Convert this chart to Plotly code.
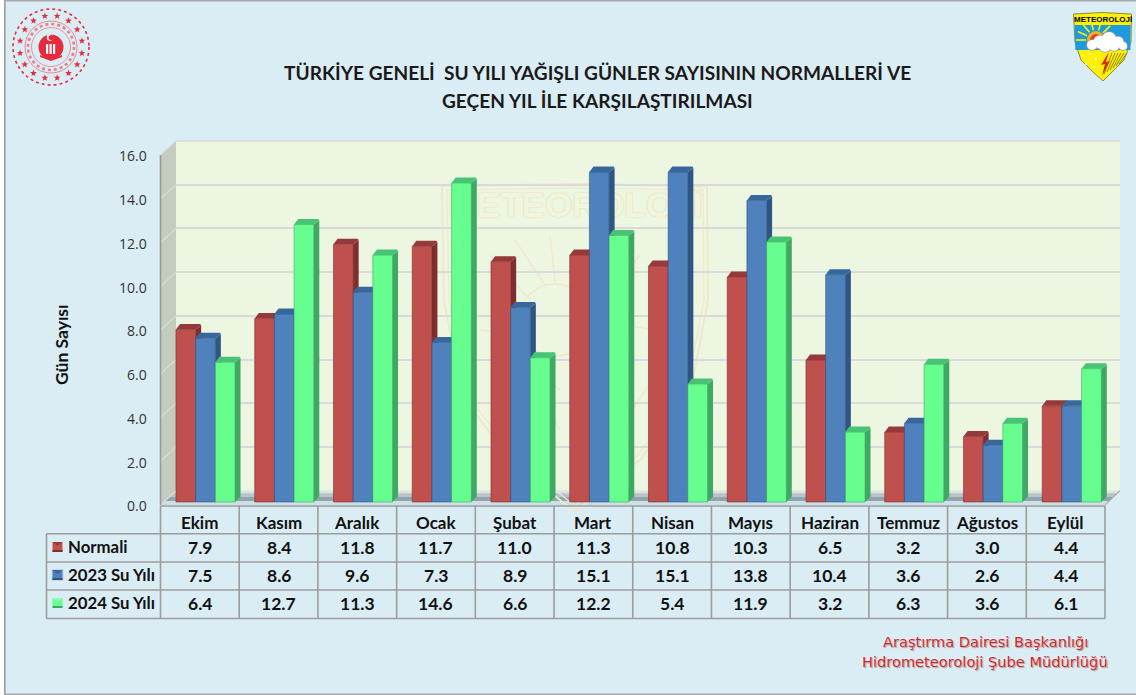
import math
import plotly.graph_objects as go

W, H = 1136, 695

months = ["Ekim", "Kasım", "Aralık", "Ocak", "Şubat", "Mart", "Nisan", "Mayıs", "Haziran", "Temmuz", "Ağustos", "Eylül"]
normali = [7.9, 8.4, 11.8, 11.7, 11.0, 11.3, 10.8, 10.3, 6.5, 3.2, 3.0, 4.4]
su_2023 = [7.5, 8.6, 9.6, 7.3, 8.9, 15.1, 15.1, 13.8, 10.4, 3.6, 2.6, 4.4]
su_2024 = [6.4, 12.7, 11.3, 14.6, 6.6, 12.2, 5.4, 11.9, 3.2, 6.3, 3.6, 6.1]
series_names = ["Normali", "2023 Su Yılı", "2024 Su Yılı"]
title_lines = ["TÜRKİYE GENELİ  SU YILI YAĞIŞLI GÜNLER SAYISININ NORMALLERİ VE",
               "GEÇEN YIL İLE KARŞILAŞTIRILMASI"]
y_title = "Gün Sayısı"
footer = ["Araştırma Dairesi Başkanlığı", "Hidrometeoroloji Şube Müdürlüğü"]

front = ["#C0504D", "#4F81BD", "#66FF8F"]
side = ["#7E2F2D", "#2F5583", "#3FA863"]
cap = ["#96393A", "#38679E", "#47C473"]
BG = "#DBEDF4"
GRID = "#9C9C9C"
FONT = "Lato"

fig = go.Figure()

# pixel helpers ---------------------------------------------------------
def px(x): return x / W
def py(y): return 1 - y / H
def path(points, close=True):
    s = "M " + " L ".join(f"{px(x):.5f},{py(y):.5f}" for x, y in points)
    return s + (" Z" if close else "")
shapes = []
def poly(points, fill, line=None, lw=0, close=True, layer="below"):
    shapes.append(dict(type="path", xref="paper", yref="paper", path=path(points, close), layer=layer,
                       fillcolor=fill if close else "rgba(0,0,0,0)",
                       line=dict(color=line or "rgba(0,0,0,0)", width=lw)))
def rect(x0, y0, x1, y1, fill, layer="below"):
    poly([(x0, y0), (x1, y0), (x1, y1), (x0, y1)], fill, layer=layer)
def seg(x0, y0, x1, y1, color, lw=1, layer="above"):
    poly([(x0, y0), (x1, y1)], None, line=color, lw=lw, close=False, layer=layer)
def circle(cx, cy, r, fill="rgba(0,0,0,0)", line=None, lw=0, dash=None, layer="above"):
    ln = dict(color=line or "rgba(0,0,0,0)", width=lw)
    if dash: ln["dash"] = dash
    shapes.append(dict(type="circle", xref="paper", yref="paper", x0=px(cx - r), x1=px(cx + r),
                       y0=py(cy + r), y1=py(cy - r), fillcolor=fill, line=ln, layer=layer))
annotations = []
def label(x, y, text, size, color="#111111", bold=True, anchor="center", family=FONT, angle=0, shadow=None):
    f = dict(size=size, color=color, family=family, weight=700 if bold else 400)
    if shadow: f["shadow"] = shadow
    annotations.append(dict(xref="paper", yref="paper", x=px(x), y=py(y), text=text, showarrow=False,
                            xanchor=anchor, yanchor="middle", font=f, textangle=angle))

# page frame ------------------------------------------------------------
rect(0, 0, 4, H, "#FFFFFF")
rect(4, 0, 5.6, H, "#9A9A9A")
rect(4, 0, W, 1.4, "#A8A8A8")
rect(4, 693.6, W, H, "#A8A8A8")

# chart walls -----------------------------------------------------------
FX0, FX1, FY0, FY16 = 160.5, 1105, 505, 155
BX0, BX1, BY0, BY16 = 176, 1120, 490.6, 141
poly([(BX0, BY16), (BX1, BY16), (BX1, BY0), (BX0, BY0)], "#EDF6E1")
seg(BX0, BY16, BX1, BY16, "#DADADA", 1.5, "below")
poly([(FX0, FY16), (BX0, BY16), (BX0, BY0), (FX0, FY0)], "#C3CCBE")
floor_bands = [(0.0, 0.18, "#DDE4DF"), (0.18, 0.45, "#B7C4C8"), (0.45, 0.72, "#93A3AC"), (0.72, 1.0, "#CCE0E8")]
for a, b, c in floor_bands:
    xa0 = BX0 + (FX0 - BX0) * a; xa1 = BX1 + (FX1 - BX1) * a; ya = BY0 + (FY0 - BY0) * a
    xb0 = BX0 + (FX0 - BX0) * b; xb1 = BX1 + (FX1 - BX1) * b; yb = BY0 + (FY0 - BY0) * b
    poly([(xa0, ya), (xa1, ya), (xb1, yb), (xb0, yb)], c)
for v in range(0, 18, 2):
    f = v / 16
    yb = BY0 + (BY16 - BY0) * f; yf = FY0 + (FY16 - FY0) * f
    seg(FX0, yf, BX0, yb, "#D8DDD2", 1.2, "below")
seg(BX1, BY0, FX1, FY0, "#A6ADB0", 1.2, "below")
seg(FX0, FY16, FX0, FY0, "#9A9A9A", 1.6, "below")

# watermark -------------------------------------------------------------
WM = "#EFE9CC"
shield = [(442, 186), (575, 184), (707, 186), (708, 300), (690, 395), (640, 460), (575, 512), (510, 460), (462, 395), (444, 300)]
poly(shield, "rgba(0,0,0,0)", line=WM, lw=2)
poly([(447, 190), (575, 188), (703, 190), (704, 300), (686, 393), (637, 456), (575, 506), (513, 456), (466, 393), (449, 300)],
     "rgba(0,0,0,0)", line=WM, lw=1.2)
for x0, y0, x1, y1 in [(490, 255, 530, 300), (515, 240, 545, 285), (550, 235, 555, 282), (600, 240, 585, 285),
                       (640, 255, 610, 295), (660, 330, 620, 325), (480, 330, 520, 335), (635, 370, 590, 440),
                       (655, 375, 610, 445), (500, 345, 560, 390), (515, 360, 560, 430)]:
    seg(x0, y0, x1, y1, WM, 1.4, "below")
circle(555, 320, 36, line=WM, lw=1.4, layer="below")

# logos: seal -----------------------------------------------------------
SEAL = "#E62B3C"
SC = (51, 47)
circle(*SC, 38, line=SEAL, lw=1.6, dash="dot")
for k in range(16):
    a = 2 * math.pi * k / 16 + math.pi / 16
    sx0 = SC[0] + 31.5 * math.cos(a)
    sy0 = SC[1] + 31.5 * math.sin(a)
    pts = []
    for j in range(10):
        rr = 3.6 if j % 2 == 0 else 1.5
        t = -math.pi / 2 + j * math.pi / 5
        pts.append((sx0 + rr * math.cos(t), sy0 + rr * math.sin(t)))
    poly(pts, SEAL, layer="above")
circle(*SC, 26, line="#EE7C86", lw=0.9)
circle(*SC, 23, line="#EE7C86", lw=2.6, dash="dot")
circle(*SC, 19.5, line="#EE7C86", lw=0.8)
circle(*SC, 12.5, fill=SEAL)
circle(50, 37.5, 3.2, fill="#FFFFFF")
circle(51.2, 37.5, 2.6, fill=SEAL)
for x in (46, 49.5, 53):
    rect(x, 44, x + 2.2, 54, "#FFFFFF", "above")
poly([(40, 55), (51, 59), (62, 55), (62, 57), (51, 61), (40, 57)], SEAL, layer="above")
# logos: emblem ---------------------------------------------------------
E = [(1073.5, 14), (1102, 12.5), (1131.5, 14), (1131, 42), (1124, 60), (1112, 72), (1103, 81), (1093, 72), (1081, 60), (1075, 42)]
poly(E, "#FFF200", line="#8A8A50", lw=1, layer="above")
poly([(1074.6, 25), (1130.6, 25), (1130.4, 50), (1075.4, 50)], "#1E9BDC", layer="above")
circle(1096, 40, 9, fill="#F4B01E", layer="above")
circle(1096, 40, 6, fill="#E2401F", layer="above")
for a in (180, 205, 230, 255, 285, 315):
    r = math.radians(a)
    seg(1096 + 10 * math.cos(r), 40 + 10 * math.sin(r), 1096 + 20 * math.cos(r), 40 + 20 * math.sin(r), "#FFF200", 1.6)
for cx, cy, r in [(1092, 45, 5), (1100, 42, 6.5), (1109, 39, 7), (1118, 42, 5.5), (1123, 46, 4), (1105, 46, 6), (1114, 46, 5)]:
    circle(cx, cy, r + 0.8, fill="#9C9C9C", layer="above")
for cx, cy, r in [(1092, 45, 5), (1100, 42, 6.5), (1109, 39, 7), (1118, 42, 5.5), (1123, 46, 4), (1105, 46, 6), (1114, 46, 5)]:
    circle(cx, cy, r, fill="#FFFFFF", layer="above")
poly([(1109, 52), (1101, 65), (1105, 64), (1102, 76), (1110, 61), (1106, 62)], "#E1261C", layer="above")
for i in range(6):
    seg(1112 + 3 * i, 53, 1104 + 3 * i, 74 - 2 * i, "#6F6A20", 0.8)
for cx, cy in [(1083, 56), (1090, 54), (1096, 59), (1086, 64), (1094, 67)]:
    circle(cx, cy, 0.9, fill="#FFFFFF", layer="above")
label(1102.5, 19.5, "METEOROLOJİ", 8, color="#000000", family="Liberation Sans")

# table -----------------------------------------------------------------
col_w = (FX1 - FX0) / len(months)
rows_y = [506, 533.7, 562, 590, 618.5]
TX0 = 46.5
for i in range(len(months) + 1):
    x = FX0 + col_w * i
    seg(x, rows_y[0], x, rows_y[-1], GRID, 1.6)
seg(FX0, rows_y[0], FX1, rows_y[0], GRID, 1.6)
for y in rows_y[1:]:
    seg(TX0, y, FX1, y, GRID, 1.6)
seg(TX0, rows_y[1], TX0, rows_y[-1], GRID, 1.6)

for i, m in enumerate(months):
    cx = FX0 + col_w * (i + 0.5)
    label(cx, 522.5, m, 17)
    for r, vals in enumerate((normali, su_2023, su_2024)):
        label(cx, 547.5 + 28 * r, f"{vals[i]:.1f}", 17.5)
for r, name in enumerate(series_names):
    yc = 547 + 28 * r
    label(66, yc - 0.5, name, 16.8, anchor="left")
    if r == 1:
        rect(51.5, yc - 6, 63.5, yc + 6, "#C9D3DA", "above")
    rect(52.5, yc - 5, 62.5, yc + 5, front[r], "above")
    poly([(52.5, yc - 5), (62.5, yc - 5), (57.5, yc - 1)], cap[r] if r != 2 else "#8CFFAE", layer="above")
    rect(52.5, yc + 3, 62.5, yc + 5, side[r], "above")

# texts -----------------------------------------------------------------
label(597.5, 73, title_lines[0], 19.1, color="#1A1A1A")
label(597.5, 100, title_lines[1], 19.1, color="#1A1A1A")
label(61, 345, y_title, 17.5, color="#111111", angle=-90)
FOOT_SHADOW = "0 0 2px #FFFFFF, 1px 1px 1px #888888"
label(985, 641.5, footer[0], 14.6, color="#D5232A", bold=False, family="DejaVu Sans", shadow=FOOT_SHADOW)
label(985, 661.5, footer[1], 14.6, color="#D5232A", bold=False, family="DejaVu Sans", shadow=FOOT_SHADOW)

# traces ----------------------------------------------------------------
# subplot 1: back wall with its grid
fig.add_trace(go.Scatter(x=[0], y=[0], mode="markers", marker=dict(opacity=0), hoverinfo="skip", showlegend=False,
                         xaxis="x", yaxis="y"))
fig.add_trace(go.Scatter(x=[4.65], y=[12.9], mode="text", text=["METEOROLOJİ"], hoverinfo="skip", showlegend=False,
                         cliponaxis=False,
                         textfont=dict(family="Liberation Sans", size=35, color="#F1F5DD", weight=700,
                                       shadow="0 0 1px #DDD6B0, 0 0 2px #E6E0BE"),
                         xaxis="x", yaxis="y"))

BAR_W = 78.75
UNIT = 21.85
DX = 5.5 / BAR_W
DY = 5.5 / UNIT
BW = 0.25
offsets = [-0.375, -0.125, 0.125]
for s, vals in enumerate((normali, su_2023, su_2024)):
    xa, ya = f"x{s + 2}", f"y{s + 2}"
    fig.add_trace(go.Bar(x=list(range(12)), y=vals, width=BW, offset=offsets[s], name=series_names[s],
                         marker=dict(color=front[s], line=dict(color=side[s], width=0.6)),
                         hoverinfo="skip", showlegend=False, xaxis=xa, yaxis=ya))
    sx, sy, cx, cy = [], [], [], []
    for i, v in enumerate(vals):
        xl = i + offsets[s]
        xr = xl + BW
        sx += [xr, xr + DX, xr + DX, xr, xr, None]
        sy += [0, DY, v + DY * 0.75, v, 0, None]
        e = 0.012
        cx += [xl, xl + DX * 0.75, xl + DX + e, xr + DX - e, xr + DX, xr, xl, None]
        cy += [v, v + DY, v + DY, v + DY, v + DY * 0.75, v, v, None]
    fig.add_trace(go.Scatter(x=sx, y=sy, mode="lines", fill="toself", fillcolor=side[s], line=dict(width=0),
                             hoverinfo="skip", showlegend=False, xaxis=xa, yaxis=ya))
    fig.add_trace(go.Scatter(x=cx, y=cy, mode="lines", fill="toself", fillcolor=cap[s], line=dict(width=0),
                             hoverinfo="skip", showlegend=False, xaxis=xa, yaxis=ya))
# front-plane value axis
fig.add_trace(go.Scatter(x=[0], y=[0], mode="markers", marker=dict(opacity=0), hoverinfo="skip", showlegend=False,
                         xaxis="x5", yaxis="y5"))

hidden = dict(visible=False, fixedrange=True)
x_range = [(0 - 205.5) / BAR_W, (W - 205.5) / BAR_W]
y_range = [(502 - H) / UNIT, 502 / UNIT]
layout = dict(
    width=W, height=H, margin=dict(l=0, r=0, t=0, b=0, pad=0, autoexpand=False), autosize=False,
    paper_bgcolor=BG, plot_bgcolor="rgba(0,0,0,0)", showlegend=False, barmode="overlay",
    shapes=shapes, annotations=annotations,
    xaxis=dict(domain=[px(BX0), px(BX1)], range=[0, 11], **hidden),
    yaxis=dict(domain=[py(BY0), py(BY16)], range=[0, 16], dtick=2, showgrid=True, gridcolor="#DADADA", gridwidth=1.5,
               zeroline=False, showticklabels=False, showline=False, ticks="", fixedrange=True),
    xaxis5=dict(domain=[px(FX0), px(FX1)], range=[0, 11], anchor="y5", **hidden),
    yaxis5=dict(domain=[py(FY0 + 1.5), py(FY16 + 1.5)], range=[0, 16], dtick=2, tickformat=".1f", anchor="x5", side="left",
                automargin=False,
                showgrid=False, zeroline=False, showline=False,
                ticks="outside", ticklen=10, tickcolor="rgba(0,0,0,0)",
                tickfont=dict(family="Open Sans", size=14, color="#333333"), fixedrange=True),
)
for s in (2, 3, 4):
    layout[f"xaxis{s}"] = dict(domain=[0, 1], range=x_range, anchor=f"y{s}", **hidden)
    layout[f"yaxis{s}"] = dict(domain=[0, 1], range=y_range, anchor=f"x{s}", **hidden)
fig.update_layout(**layout)

fig.write_html("out.html", post_script="document.body.style.margin='0';document.documentElement.style.overflow='hidden';",
               config=dict(displayModeBar=False))
